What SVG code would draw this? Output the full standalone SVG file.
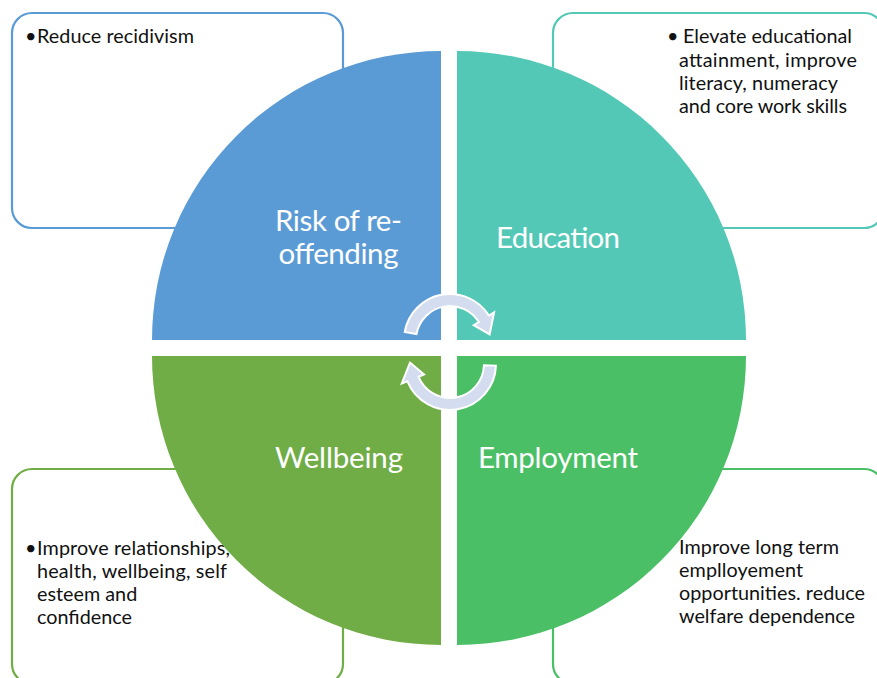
<svg xmlns="http://www.w3.org/2000/svg" width="877" height="678" viewBox="0 0 877 678">
  <style>
    .box { fill: #ffffff; stroke-width: 2.2; }
    .note { font-family: Lato, "Liberation Sans", sans-serif; font-size: 19.8px; fill: #111111; }
    .label { font-family: Lato, "Liberation Sans", sans-serif; font-size: 29.5px; fill: #ffffff; text-anchor: middle; }
    .cycle { fill: #d4ddef; stroke: #ffffff; stroke-width: 2; stroke-linejoin: miter; }
  </style>
  <rect width="877" height="678" fill="#ffffff"/>

  <!-- outcome boxes behind the circle -->
  <g id="box-recidivism">
    <rect class="box" x="12" y="13" width="331" height="215" rx="20" stroke="#5b9bd5"/>
    <text class="note" x="25" y="43">•</text>
    <text class="note" x="37" y="43" textLength="157">Reduce recidivism</text>
  </g>
  <g id="box-education">
    <rect class="box" x="553" y="13" width="331" height="215" rx="20" stroke="#53c8b6"/>
    <text class="note" x="667" y="43">•</text>
    <text class="note" x="683" y="43" textLength="169">Elevate educational</text>
    <text class="note" x="679" y="67" textLength="178">attainment, improve</text>
    <text class="note" x="679" y="90" textLength="159">literacy, numeracy</text>
    <text class="note" x="679" y="113" textLength="168">and core work skills</text>
  </g>
  <g id="box-wellbeing">
    <rect class="box" x="12" y="469" width="331" height="215" rx="20" stroke="#70ad47"/>
    <text class="note" x="25" y="555">•</text>
    <text class="note" x="37" y="555" textLength="193">Improve relationships,</text>
    <text class="note" x="37" y="578" textLength="190">health, wellbeing, self</text>
    <text class="note" x="37" y="601">esteem and</text>
    <text class="note" x="37" y="624">confidence</text>
  </g>
  <g id="box-employment">
    <rect class="box" x="553" y="469" width="331" height="215" rx="20" stroke="#4abf65"/>
    <text class="note" x="679" y="554" textLength="160">Improve long term</text>
    <text class="note" x="679" y="577" textLength="124">emplloyement</text>
    <text class="note" x="679" y="600" textLength="186">opportunities. reduce</text>
    <text class="note" x="679" y="623" textLength="176">welfare dependence</text>
  </g>

  <!-- quadrant circle -->
  <g id="q-risk">
    <path d="M441,340 L152,340 A289,289 0 0 1 441,51 Z" fill="#5b9bd5"/>
    <text class="label" x="338.5" y="231" textLength="127">Risk of re-</text>
    <text class="label" x="338.5" y="264" textLength="120">offending</text>
  </g>
  <g id="q-education">
    <path d="M457,340 L457,51 A289,289 0 0 1 746,340 Z" fill="#53c8b6"/>
    <text class="label" x="558" y="248" textLength="124">Education</text>
  </g>
  <g id="q-employment">
    <path d="M457,356 L746,356 A289,289 0 0 1 457,645 Z" fill="#4abf65"/>
    <text class="label" x="558" y="468" textLength="160">Employment</text>
  </g>
  <g id="q-wellbeing">
    <path d="M441,356 L441,645 A289,289 0 0 1 152,356 Z" fill="#70ad47"/>
    <text class="label" x="339" y="468" textLength="128">Wellbeing</text>
  </g>

  <!-- cycle arrows in the centre -->
  <g id="connectors">
    <path class="cycle" d="M404.70,332.01 A46,46 0 0 1 489.01,315.62 L494.10,312.44 L489.61,334.43 L473.74,325.16 L478.83,321.98 A34,34 0 0 0 416.52,334.10 Z"/>
    <path class="cycle" d="M495.97,365.61 A46,46 0 0 1 407.35,381.23 L401.79,383.48 L410.02,362.60 L424.04,374.49 L418.48,376.74 A34,34 0 0 0 483.98,365.19 Z"/>
  </g>
</svg>
